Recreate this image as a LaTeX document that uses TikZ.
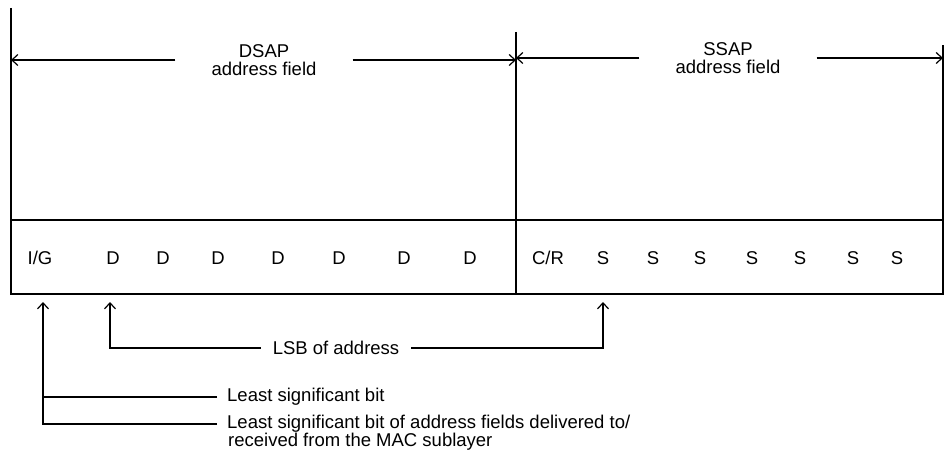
\documentclass[tikz,border=0pt]{standalone}
\usepackage{fontspec}
\setmainfont{Liberation Sans}
\usetikzlibrary{arrows.meta}

\tikzset{
  wall/.style={line width=1.3pt},
  tip/.style={line width=1.2pt, -{Straight Barb[length=6pt,width=11pt]}},
  field/.style={align=center, inner xsep=36pt, font=\fontsize{18.5}{18}\selectfont},
  bitlbl/.style={font=\fontsize{18.5}{18}\selectfont},
  note/.style={inner ysep=0pt, font=\fontsize{18.5}{18}\selectfont},
}

\begin{document}
\begin{tikzpicture}[x=1pt,y=-1pt]
                        \useasboundingbox (0,0) rectangle (949,452);

                        % frame of the two fields
                        \draw[wall] (11,8) -- (11,294) -- (943,294) -- (943,45);
                        \draw[wall] (516,32) -- (516,294);
                        \draw[wall] (11,220) -- (943,220);

                        \coordinate (wl) at (11,61);
                        \coordinate (wm) at (516,61);
                        \coordinate (wr) at (943,61);

                        \node[field] (dsap) at (264,60) {DSAP\\address field};
                        \node[field] (ssap) at (728,58) {SSAP\\address field};
                        \draw[tip] (dsap.west) -- (dsap.west -| wl);
                        \draw[tip] (dsap.east) -- (dsap.east -| wm);
                        \draw[tip] (ssap.west) -- (ssap.west -| wm);
                        \draw[tip] (ssap.east) -- (ssap.east -| wr);

                        % bits
                        \node[bitlbl] (ig) at (40,258) {I/G};
                        \foreach \x [count=\i] in {113,163,218,278,339,404,470}
                            \node[bitlbl] (d\i) at (\x,258) {D};
                        \node[bitlbl] (cr) at (548,258) {C/R};
                        \foreach \x [count=\i] in {603,653,700,752,800,853,897}
                            \node[bitlbl] (s\i) at (\x,258) {S};

                        % pointers below the bits
                        \coordinate (igtip) at (43,302);
                        \coordinate (dtip) at (110,302);
                        \coordinate (stip) at (603,302);

                        \node[note, inner xsep=12pt] (lsb) at (336,348) {LSB of address};
                        \draw[tip] (lsb.west) -| (dtip);
                        \draw[tip] (lsb.east) -| (stip);

                        \node[note, anchor=west, inner xsep=10pt] (lsbit) at (217,397) {Least significant bit};
                        \node[note, anchor=west, inner xsep=10pt] (mac) at (217,424) {Least significant bit of address fields delivered to/};
                        \node[note, anchor=north west, inner sep=0pt] (mac2) at ([xshift=11pt]mac.south west) {received from the MAC sublayer};
                        \draw[tip] (mac.west) -| (igtip);
                        \draw[wall] (lsbit.west) -- (lsbit.west -| igtip);
                    \end{tikzpicture}
\end{document}
